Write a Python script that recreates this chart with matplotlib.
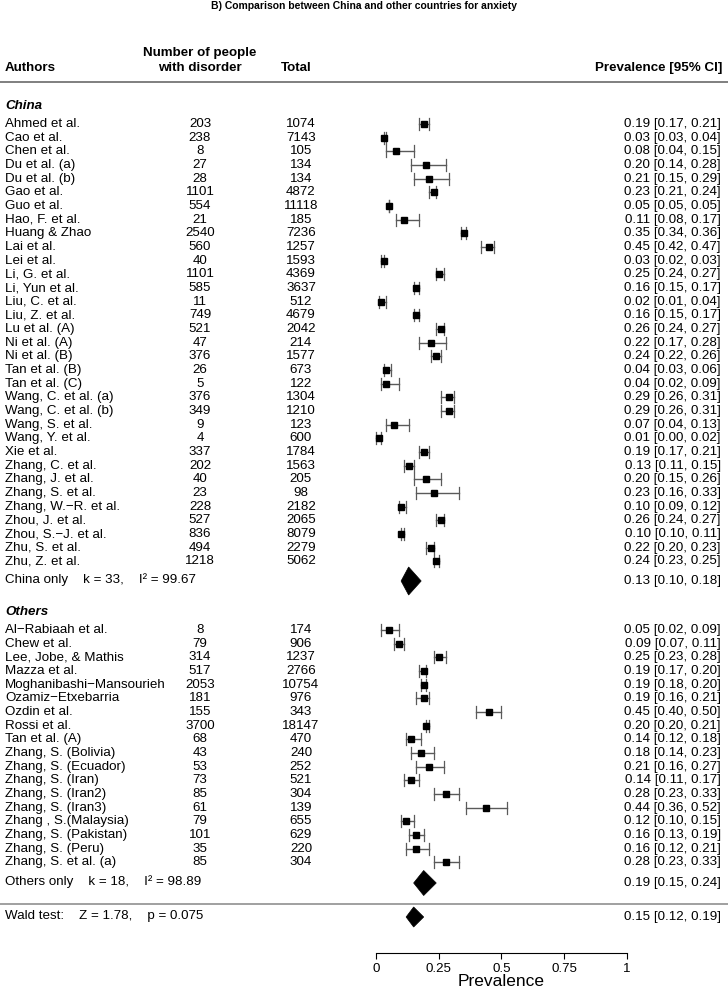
import matplotlib
matplotlib.use("Agg")
import matplotlib.pyplot as plt
from matplotlib.patches import Polygon
from matplotlib.transforms import blended_transform_factory

plt.rcParams['font.family'] = ['Liberation Sans', 'DejaVu Sans']

# study data
china_authors = ["Ahmed et al.", "Cao et al.", "Chen et al.", "Du et al. (a)", "Du et al. (b)",
                 "Gao et al.", "Guo et al.", "Hao, F. et al.", "Huang & Zhao", "Lai et al.",
                 "Lei et al.", "Li, G. et al.", "Li, Yun et al.", "Liu, C. et al.", "Liu, Z. et al.",
                 "Lu et al. (A)", "Ni et al. (A)", "Ni et al. (B)", "Tan et al. (B)", "Tan et al. (C)",
                 "Wang, C. et al. (a)", "Wang, C. et al. (b)", "Wang, S. et al.", "Wang, Y. et al.",
                 "Xie et al.", "Zhang, C. et al.", "Zhang, J. et al.", "Zhang, S. et al.",
                 "Zhang, W.\u2212R. et al.", "Zhou, J. et al.", "Zhou, S.\u2212J. et al.",
                 "Zhu, S. et al.", "Zhu, Z. et al."]
china_events = [203, 238, 8, 27, 28, 1101, 554, 21, 2540, 560, 40, 1101, 585, 11, 749, 521, 47,
                376, 26, 5, 376, 349, 9, 4, 337, 202, 40, 23, 228, 527, 836, 494, 1218]
china_total = [1074, 7143, 105, 134, 134, 4872, 11118, 185, 7236, 1257, 1593, 4369, 3637, 512,
               4679, 2042, 214, 1577, 673, 122, 1304, 1210, 123, 600, 1784, 1563, 205, 98, 2182,
               2065, 8079, 2279, 5062]
china_prev = [0.19, 0.03, 0.08, 0.20, 0.21, 0.23, 0.05, 0.11, 0.35, 0.45, 0.03, 0.25, 0.16, 0.02,
              0.16, 0.26, 0.22, 0.24, 0.04, 0.04, 0.29, 0.29, 0.07, 0.01, 0.19, 0.13, 0.20, 0.23,
              0.10, 0.26, 0.10, 0.22, 0.24]
china_lo = [0.17, 0.03, 0.04, 0.14, 0.15, 0.21, 0.05, 0.08, 0.34, 0.42, 0.02, 0.24, 0.15, 0.01,
            0.15, 0.24, 0.17, 0.22, 0.03, 0.02, 0.26, 0.26, 0.04, 0.00, 0.17, 0.11, 0.15, 0.16,
            0.09, 0.24, 0.10, 0.20, 0.23]
china_hi = [0.21, 0.04, 0.15, 0.28, 0.29, 0.24, 0.05, 0.17, 0.36, 0.47, 0.03, 0.27, 0.17, 0.04,
            0.17, 0.27, 0.28, 0.26, 0.06, 0.09, 0.31, 0.31, 0.13, 0.02, 0.21, 0.15, 0.26, 0.33,
            0.12, 0.27, 0.11, 0.23, 0.25]

other_authors = ["Al\u2212Rabiaah et al.", "Chew et al.", "Lee, Jobe, & Mathis", "Mazza et al.",
                 "Moghanibashi\u2212Mansourieh", "Ozamiz\u2212Etxebarria", "Ozdin et al.",
                 "Rossi et al.", "Tan et al. (A)", "Zhang, S. (Bolivia)", "Zhang, S. (Ecuador)",
                 "Zhang, S. (Iran)", "Zhang, S. (Iran2)", "Zhang, S. (Iran3)", "Zhang , S.(Malaysia)",
                 "Zhang, S. (Pakistan)", "Zhang, S. (Peru)", "Zhang, S. et al. (a)"]
other_events = [8, 79, 314, 517, 2053, 181, 155, 3700, 68, 43, 53, 73, 85, 61, 79, 101, 35, 85]
other_total = [174, 906, 1237, 2766, 10754, 976, 343, 18147, 470, 240, 252, 521, 304, 139, 655,
               629, 220, 304]
other_prev = [0.05, 0.09, 0.25, 0.19, 0.19, 0.19, 0.45, 0.20, 0.14, 0.18, 0.21, 0.14, 0.28, 0.44,
              0.12, 0.16, 0.16, 0.28]
other_lo = [0.02, 0.07, 0.23, 0.17, 0.18, 0.16, 0.40, 0.20, 0.12, 0.14, 0.16, 0.11, 0.23, 0.36,
            0.10, 0.13, 0.12, 0.23]
other_hi = [0.09, 0.11, 0.28, 0.20, 0.20, 0.21, 0.50, 0.21, 0.18, 0.23, 0.27, 0.17, 0.33, 0.52,
            0.15, 0.19, 0.21, 0.33]

# pooled estimates: China, Others, overall
pooled_prev = [0.13, 0.19, 0.15]
pooled_lo = [0.10, 0.15, 0.12]
pooled_hi = [0.18, 0.24, 0.19]
pooled_labels = ["China only    k = 33,    I\u00b2 = 99.67",
                 "Others only    k = 18,    I\u00b2 = 98.89",
                 "Wald test:    Z = 1.78,    p = 0.075"]

W, H = 728, 988
FS = 9.6
LINE_C = '#5a5a5a'

fig = plt.figure(figsize=(W / 100, H / 100), dpi=100)
ax = fig.add_axes([0, 0, 1, 1])
# x in prevalence units (0 -> 376px, 1 -> 627px), y in pixel rows
x0, x1 = 376, 627
ax.set_xlim(-x0 / (x1 - x0), (W - x0) / (x1 - x0))
ax.set_ylim(H, 0)
tx = blended_transform_factory(ax.transAxes, ax.transData)

ax.text(364 / W, 6, "B) Comparison between China and other countries for anxiety", transform=tx,
        ha='center', va='center', fontsize=7.5, fontweight='bold')

# header
ax.text(200 / W, 53, "Number of people", transform=tx, ha='center', va='center', fontsize=FS, fontweight='bold')
ax.text(200 / W, 68, "with disorder", transform=tx, ha='center', va='center', fontsize=FS, fontweight='bold')
ax.text(5 / W, 68, "Authors", transform=tx, ha='left', va='center', fontsize=FS, fontweight='bold')
ax.text(296 / W, 68, "Total", transform=tx, ha='center', va='center', fontsize=FS, fontweight='bold')
ax.text(722 / W, 68, "Prevalence [95% CI]", transform=tx, ha='right', va='center', fontsize=FS, fontweight='bold')
ax.axhline(82, color='#6a6a6a', lw=1.2)
ax.axhline(904, color='#909090', lw=1.2)

ROW = 13.67


def draw_group(title, title_y, first_y, authors, events, total, prev, lo, hi):
    ax.text(5 / W, title_y, title, transform=tx, ha='left', va='center', fontsize=FS,
            fontweight='bold', fontstyle='italic')
    for i in range(len(authors)):
        y = first_y + i * ROW
        ax.text(5 / W, y, authors[i], transform=tx, ha='left', va='center', fontsize=FS)
        ax.text(200 / W, y, str(events[i]), transform=tx, ha='center', va='center', fontsize=FS)
        ax.text(301 / W, y, str(total[i]), transform=tx, ha='center', va='center', fontsize=FS)
        ax.text(721 / W, y, f"{prev[i]:.2f} [{lo[i]:.2f}, {hi[i]:.2f}]", transform=tx,
                ha='right', va='center', fontsize=FS)
        ax.plot([lo[i], hi[i]], [y, y], color=LINE_C, lw=1)
        ax.plot([lo[i], lo[i]], [y - 6, y + 6], color=LINE_C, lw=0.9)
        ax.plot([hi[i], hi[i]], [y - 6, y + 6], color=LINE_C, lw=0.9)
        ax.plot(prev[i], y, marker='s', color='black', markersize=4.6, zorder=3)


draw_group("China", 106, 124, china_authors, china_events, china_total, china_prev, china_lo, china_hi)
draw_group("Others", 612, 630, other_authors, other_events, other_total, other_prev, other_lo, other_hi)

pooled_y = [581, 883, 917]
diamond_h = [28, 25, 20]
for j in range(3):
    y = pooled_y[j]
    ax.text(5 / W, y - 1, pooled_labels[j], transform=tx, ha='left', va='center', fontsize=FS)
    ax.text(721 / W, y, f"{pooled_prev[j]:.2f} [{pooled_lo[j]:.2f}, {pooled_hi[j]:.2f}]",
            transform=tx, ha='right', va='center', fontsize=FS)
    h = diamond_h[j] / 2
    ax.add_patch(Polygon([(pooled_lo[j], y), (pooled_prev[j], y - h), (pooled_hi[j], y),
                          (pooled_prev[j], y + h)], closed=True, facecolor='black',
                         edgecolor='black', lw=0.5))

# bottom axis
for s in ['top', 'left', 'right']:
    ax.spines[s].set_visible(False)
ax.spines['bottom'].set_position(('data', 953))
ax.spines['bottom'].set_bounds(0, 1)
ax.spines['bottom'].set_linewidth(0.8)
ax.set_xticks([0, 0.25, 0.5, 0.75, 1])
ax.set_xticklabels(['0', '0.25', '0.5', '0.75', '1'])
ax.tick_params(axis='x', direction='out', length=4, width=0.8, labelsize=FS, pad=3)
ax.set_yticks([])
ax.text(0.5, 981, "Prevalence", ha='center', va='center', fontsize=12.5)

fig.savefig("out.png", dpi=100)
